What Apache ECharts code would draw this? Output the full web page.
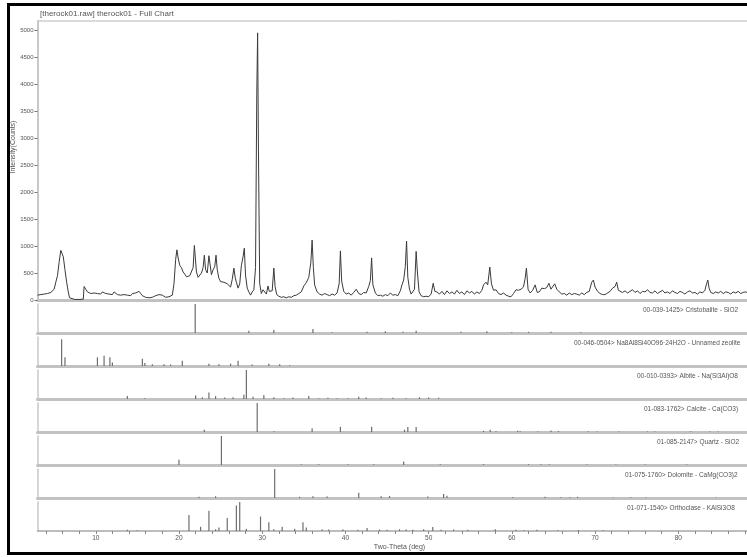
<!DOCTYPE html>
<html>
<head>
<meta charset="utf-8">
<title>therock01 - Full Chart</title>
<script src="https://cdn.jsdelivr.net/npm/echarts@6/dist/echarts.min.js"></script>
<style>
  html, body { margin: 0; padding: 0; background: #fff; }
  #chart { width: 747px; height: 557px; }
</style>
</head>
<body>
<div id="chart"></div>
<script>
  // measured scan: [two-theta (deg), intensity (counts)]
  const scanPoints = [
    [3.0, 90], [3.2, 120], [3.4, 100], [3.6, 130], [3.8, 110], [4.0, 140], [4.2, 120], [4.4, 150],
    [4.6, 140], [4.8, 170], [5.0, 200], [5.2, 330], [5.4, 450], [5.6, 700], [5.8, 920], [5.95, 950],
    [6.1, 800], [6.3, 560], [6.5, 330], [6.7, 150], [6.85, 40], [7.0, 10], [7.5, 10], [8.0, 10],
    [8.5, 15], [8.6, 250], [8.7, 280], [8.8, 200], [9.0, 150], [9.2, 170], [9.4, 120], [9.6, 150],
    [9.8, 130], [10.0, 160], [10.2, 120], [10.4, 140], [10.6, 110], [10.8, 150], [11.0, 170], [11.2, 120],
    [11.4, 130], [11.6, 110], [11.8, 140], [12.0, 100], [12.2, 150], [12.4, 120], [12.6, 100], [12.8, 130],
    [13.0, 90], [13.2, 110], [13.4, 100], [13.6, 120], [13.8, 90], [14.0, 110], [14.2, 80], [14.4, 120],
    [14.6, 100], [14.8, 130], [15.0, 110], [15.2, 160], [15.4, 120], [15.6, 80], [15.8, 60], [16.0, 50],
    [16.2, 70], [16.4, 40], [16.6, 60], [16.8, 50], [17.0, 60], [17.2, 80], [17.4, 60], [17.6, 100],
    [17.8, 130], [18.0, 90], [18.2, 60], [18.4, 50], [18.6, 70], [18.8, 60], [19.0, 80], [19.2, 90],
    [19.4, 300], [19.6, 750], [19.75, 930], [19.9, 780], [20.1, 640], [20.3, 600], [20.5, 520], [20.7, 480],
    [20.9, 430], [21.1, 400], [21.3, 450], [21.5, 430], [21.7, 600], [21.85, 1010], [21.95, 1040], [22.1, 520],
    [22.3, 420], [22.5, 450], [22.7, 500], [22.9, 600], [23.05, 830], [23.2, 560], [23.4, 500], [23.6, 820],
    [23.75, 800], [23.9, 470], [24.1, 560], [24.3, 620], [24.45, 830], [24.6, 560], [24.8, 400], [25.0, 340],
    [25.2, 360], [25.4, 330], [25.6, 350], [25.8, 300], [26.0, 310], [26.2, 240], [26.4, 380], [26.6, 590],
    [26.75, 420], [26.9, 330], [27.1, 220], [27.3, 300], [27.5, 640], [27.7, 800], [27.85, 960], [28.0, 460],
    [28.2, 220], [28.4, 150], [28.6, 90], [28.8, 150], [29.0, 190], [29.2, 600], [29.35, 3800], [29.45, 4950],
    [29.55, 2800], [29.7, 300], [29.9, 120], [30.1, 190], [30.3, 170], [30.5, 110], [30.7, 260], [30.85, 160],
    [31.0, 130], [31.2, 170], [31.4, 590], [31.55, 250], [31.75, 100], [32.0, 70], [32.3, 50], [32.6, 60],
    [32.9, 40], [33.2, 60], [33.5, 50], [33.8, 80], [34.1, 90], [34.4, 120], [34.7, 150], [35.0, 260],
    [35.3, 320], [35.6, 420], [35.85, 700], [36.0, 1110], [36.15, 600], [36.3, 280], [36.6, 150], [36.9, 110],
    [37.2, 90], [37.5, 120], [37.8, 100], [38.1, 80], [38.4, 110], [38.7, 90], [39.0, 130], [39.25, 300],
    [39.4, 910], [39.55, 350], [39.8, 160], [40.1, 110], [40.4, 130], [40.7, 90], [41.0, 140], [41.3, 200],
    [41.6, 120], [41.9, 100], [42.2, 140], [42.5, 130], [42.8, 250], [43.0, 360], [43.15, 780], [43.3, 280],
    [43.6, 130], [43.9, 80], [44.2, 90], [44.5, 70], [44.8, 100], [45.1, 80], [45.4, 130], [45.7, 90],
    [46.0, 100], [46.3, 80], [46.6, 170], [46.8, 280], [47.0, 370], [47.2, 620], [47.35, 1090], [47.5, 420],
    [47.7, 200], [47.9, 110], [48.1, 90], [48.3, 200], [48.5, 900], [48.65, 520], [48.85, 150], [49.1, 80],
    [49.4, 60], [49.7, 70], [50.0, 60], [50.3, 110], [50.55, 310], [50.75, 160], [51.0, 150], [51.3, 110],
    [51.6, 160], [51.9, 100], [52.2, 170], [52.5, 120], [52.8, 150], [53.1, 110], [53.4, 180], [53.7, 120],
    [54.0, 150], [54.3, 100], [54.6, 170], [54.9, 130], [55.2, 160], [55.5, 110], [55.8, 150], [56.1, 120],
    [56.4, 180], [56.6, 280], [56.9, 330], [57.1, 280], [57.35, 610], [57.55, 300], [57.8, 180], [58.1, 190],
    [58.4, 120], [58.7, 100], [59.0, 130], [59.3, 90], [59.6, 70], [59.9, 60], [60.2, 120], [60.5, 190],
    [60.8, 180], [61.1, 200], [61.4, 240], [61.6, 400], [61.75, 590], [61.95, 200], [62.2, 130], [62.5, 180],
    [62.8, 280], [63.05, 140], [63.3, 150], [63.6, 220], [63.9, 210], [64.2, 230], [64.45, 310], [64.7, 200],
    [64.9, 190], [65.15, 300], [65.4, 200], [65.7, 150], [66.0, 110], [66.3, 120], [66.6, 90], [66.9, 130],
    [67.2, 100], [67.5, 120], [67.8, 110], [68.1, 90], [68.4, 130], [68.7, 100], [69.0, 140], [69.3, 160],
    [69.6, 330], [69.8, 370], [70.0, 240], [70.3, 160], [70.6, 120], [70.9, 100], [71.2, 100], [71.5, 130],
    [71.8, 160], [72.1, 220], [72.4, 250], [72.6, 330], [72.8, 180], [73.0, 150], [73.3, 140], [73.6, 170],
    [73.9, 130], [74.2, 160], [74.5, 190], [74.8, 140], [75.1, 170], [75.4, 120], [75.7, 160], [76.0, 150],
    [76.3, 190], [76.6, 140], [76.9, 130], [77.2, 170], [77.5, 120], [77.8, 150], [78.1, 180], [78.4, 130],
    [78.7, 150], [79.0, 120], [79.3, 170], [79.6, 140], [79.9, 120], [80.2, 160], [80.5, 140], [80.8, 110],
    [81.1, 150], [81.4, 170], [81.7, 130], [82.0, 140], [82.3, 110], [82.6, 150], [82.9, 130], [83.2, 180],
    [83.4, 300], [83.55, 370], [83.7, 220], [83.9, 140], [84.2, 120], [84.5, 150], [84.8, 130], [85.1, 160],
    [85.4, 120], [85.7, 150], [86.0, 140], [86.3, 110], [86.6, 150], [86.9, 130], [87.2, 160], [87.5, 120],
    [87.8, 140], [88.1, 150], [88.4, 130], [88.7, 160], [89.0, 120], [89.3, 140], [89.6, 130], [90.0, 120]
  ]

  // reference patterns: [two-theta, relative intensity %]
  const cristobaliteSticks = [
    [21.95, 100], [28.4, 8], [31.4, 10], [36.1, 14], [38.4, 3], [42.6, 4], [44.8, 6], [46.9, 4],
    [48.5, 8], [53.9, 4], [57.0, 6], [60.0, 3], [62.0, 4], [64.7, 4], [68.3, 3]
  ]
  const zeoliteSticks = [
    [5.9, 92], [6.3, 30], [10.2, 30], [11.0, 35], [11.7, 30], [12.0, 12], [15.6, 25], [15.9, 10],
    [16.8, 6], [18.2, 6], [19.0, 5], [20.4, 18], [23.6, 8], [24.8, 6], [26.2, 8], [27.1, 18],
    [28.8, 5], [30.8, 8], [32.1, 6], [33.3, 3]
  ]
  const albiteSticks = [
    [13.8, 10], [15.9, 3], [22.0, 12], [22.8, 6], [23.6, 22], [24.4, 10], [25.5, 5], [26.5, 6],
    [27.8, 15], [28.1, 100], [28.9, 8], [30.2, 14], [31.4, 6], [32.6, 3], [33.7, 5], [35.6, 10],
    [36.8, 3], [37.9, 4], [39.0, 3], [40.3, 3], [41.6, 8], [42.5, 5], [44.3, 3], [45.7, 4],
    [47.3, 3], [48.9, 6], [50.0, 5], [51.2, 4]
  ]
  const calciteSticks = [
    [23.05, 8], [29.4, 100], [31.4, 3], [36.0, 13], [39.4, 18], [43.15, 18], [47.1, 8], [47.5, 17],
    [48.5, 17], [56.6, 4], [57.4, 8], [58.1, 3], [60.7, 4], [61.0, 3], [63.1, 2], [64.7, 5],
    [65.6, 3], [69.2, 2], [70.2, 2], [72.9, 2], [76.3, 2], [77.2, 2], [81.5, 3], [83.8, 2], [84.8, 2]
  ]
  const quartzSticks = [
    [20.0, 18], [25.1, 100], [34.7, 3], [36.8, 3], [40.3, 3], [43.4, 3], [47.0, 12], [51.4, 3],
    [56.6, 3], [62.0, 3], [63.5, 3], [64.5, 3], [69.0, 2], [72.5, 2], [76.0, 2], [81.0, 2]
  ]
  const dolomiteSticks = [
    [22.4, 4], [24.4, 6], [31.5, 100], [34.5, 4], [36.1, 6], [37.8, 5], [41.6, 18], [44.3, 6],
    [45.3, 7], [49.9, 5], [51.8, 14], [52.2, 8], [60.1, 3], [64.0, 4], [65.9, 3], [67.0, 3],
    [67.9, 4], [72.2, 2], [74.3, 3], [76.1, 2], [84.5, 2]
  ]
  const orthoclaseSticks = [
    [13.8, 4], [15.0, 3], [21.2, 55], [22.6, 15], [23.6, 70], [24.4, 6], [24.8, 12], [25.8, 45],
    [26.9, 88], [27.3, 100], [28.1, 8], [29.8, 50], [30.8, 30], [31.4, 6], [32.4, 15], [33.9, 8],
    [34.9, 30], [35.3, 12], [37.2, 6], [38.0, 5], [39.7, 5], [41.5, 4], [42.6, 10], [44.1, 5],
    [45.0, 4], [46.5, 6], [47.3, 5], [48.1, 4], [49.4, 6], [50.5, 14], [51.5, 4], [53.0, 5],
    [54.7, 4], [58.0, 6], [60.5, 4], [61.5, 3], [63.0, 4], [65.5, 3], [68.0, 3], [71.0, 3]
  ]

  const phaseSticks = [cristobaliteSticks, zeoliteSticks, albiteSticks, calciteSticks,
    quartzSticks, dolomiteSticks, orthoclaseSticks]
  const phaseLabels = [
    '00-039-1425> Cristobalite - SiO2',
    '00-046-0504> Na8Al8Si40O96·24H2O - Unnamed zeolite',
    '00-010-0393> Albite - Na(Si3Al)O8',
    '01-083-1762> Calcite - Ca(CO3)',
    '01-085-2147> Quartz - SiO2',
    '01-075-1760> Dolomite - CaMg(CO3)2',
    '01-071-1540> Orthoclase - KAlSi3O8'
  ]
  const labelX = [643, 574, 637, 644, 657, 625, 627]

  const yLabelValues = [0, 500, 1000, 1500, 2000, 2500, 3000, 3500, 4000, 4500, 5000]
  const xLabelValues = [10, 20, 30, 40, 50, 60, 70, 80, 90]
  const xTickValues = [4, 6, 8, 10, 12, 14, 16, 18, 20, 22, 24, 26, 28, 30, 32, 34, 36, 38, 40, 42, 44,
    46, 48, 50, 52, 54, 56, 58, 60, 62, 64, 66, 68, 70, 72, 74, 76, 78, 80, 82, 84, 86, 88, 90]

  const FONT = '"Liberation Sans", Arial, sans-serif'
  const GRAY_BAR = '#c2c2c2'
  const plotLeft = 37.5
  const plotWidth = 724     // plot runs past the right edge of the picture (90 deg is cut off)
  const panelTop = 304
  const panelStep = 33
  const panelHeight = 29

  // outerBoundsMode none: keep the grid as given even though it leaves the canvas
  let grids = [{left: plotLeft, width: plotWidth, top: 21, height: 279, outerBoundsMode: 'none'}]
  let xAxes = [{
    gridIndex: 0, type: 'value', min: 3, max: 90,
    axisLine: {show: true, onZero: false, lineStyle: {color: GRAY_BAR, width: 3}},
    axisTick: {show: false}, axisLabel: {show: false}, splitLine: {show: false}
  }]
  let yAxes = [{
    gridIndex: 0, type: 'value', min: 0, max: 5170,
    axisLine: {show: true, onZero: false, lineStyle: {color: '#c8c8c8', width: 2}},
    axisTick: {show: true, length: 3, customValues: yLabelValues, lineStyle: {color: '#777'}},
    axisLabel: {
      customValues: yLabelValues, fontSize: 6, color: '#555', margin: 4, fontFamily: FONT,
      formatter: function (v) { return String(v) }
    },
    splitLine: {show: false}
  }]
  let series = [{
    type: 'line', xAxisIndex: 0, yAxisIndex: 0,
    data: scanPoints, showSymbol: false, animation: false,
    lineStyle: {color: '#3a3a3a', width: 1}
  }]

  phaseSticks.forEach(function (sticks, i) {
    let idx = i + 1
    let last = i === phaseSticks.length - 1
    grids.push({
      left: plotLeft, width: plotWidth, top: panelTop + panelStep * i, height: panelHeight,
      outerBoundsMode: 'none'
    })
    xAxes.push({
      gridIndex: idx, type: 'value', min: 3, max: 90,
      axisLine: {show: true, onZero: false, lineStyle: {color: last ? '#a8a8a8' : GRAY_BAR, width: last ? 1.5 : 3}},
      axisTick: last ? {show: true, length: 3, customValues: xTickValues, lineStyle: {color: '#888'}} : {show: false},
      axisLabel: last ? {show: true, customValues: xLabelValues, fontSize: 6.5, color: '#555', margin: 4, fontFamily: FONT} : {show: false},
      splitLine: {show: false},
      name: last ? 'Two-Theta (deg)' : '',
      nameLocation: 'middle',
      nameGap: 13,
      nameTextStyle: {fontSize: 7, color: '#555', fontFamily: FONT}
    })
    yAxes.push({
      gridIndex: idx, type: 'value', min: 0, max: 100,
      axisLine: {show: true, onZero: false, lineStyle: {color: '#c8c8c8', width: 1.5}},
      axisTick: {show: false}, axisLabel: {show: false}, splitLine: {show: false}
    })
    series.push({
      type: 'bar', xAxisIndex: idx, yAxisIndex: idx,
      data: sticks, barWidth: 1.2, animation: false,
      itemStyle: {color: '#6e6e6e'}
    })
  })

  let graphics = [
    {type: 'rect', shape: {x: 8.5, y: 4.5, width: 800, height: 549},
      style: {fill: 'none', stroke: '#000', lineWidth: 3}},
    {type: 'line', shape: {x1: plotLeft, y1: 21, x2: 747, y2: 21},
      style: {stroke: '#b4b4b4', lineWidth: 1}},
    {type: 'text', x: 40, y: 14,
      style: {text: '[therock01.raw] therock01 - Full Chart', font: '8px ' + FONT, fill: '#555',
        textVerticalAlign: 'middle'}},
    {type: 'text', x: 13, y: 147, rotation: Math.PI / 2,
      style: {text: 'Intensity(Counts)', font: '7px ' + FONT, fill: '#555',
        textAlign: 'center', textVerticalAlign: 'middle'}}
  ]
  phaseLabels.forEach(function (label, i) {
    graphics.push({
      type: 'text', x: labelX[i], y: panelTop + panelStep * i + 6,
      style: {text: label, font: '6.5px ' + FONT, fill: '#555', textVerticalAlign: 'middle'}
    })
  })

  let myChart = echarts.init(document.getElementById('chart'))
  myChart.setOption({
    backgroundColor: '#fff',
    animation: false,
    grid: grids,
    xAxis: xAxes,
    yAxis: yAxes,
    series: series,
    graphic: graphics
  })
</script>
</body>
</html>
